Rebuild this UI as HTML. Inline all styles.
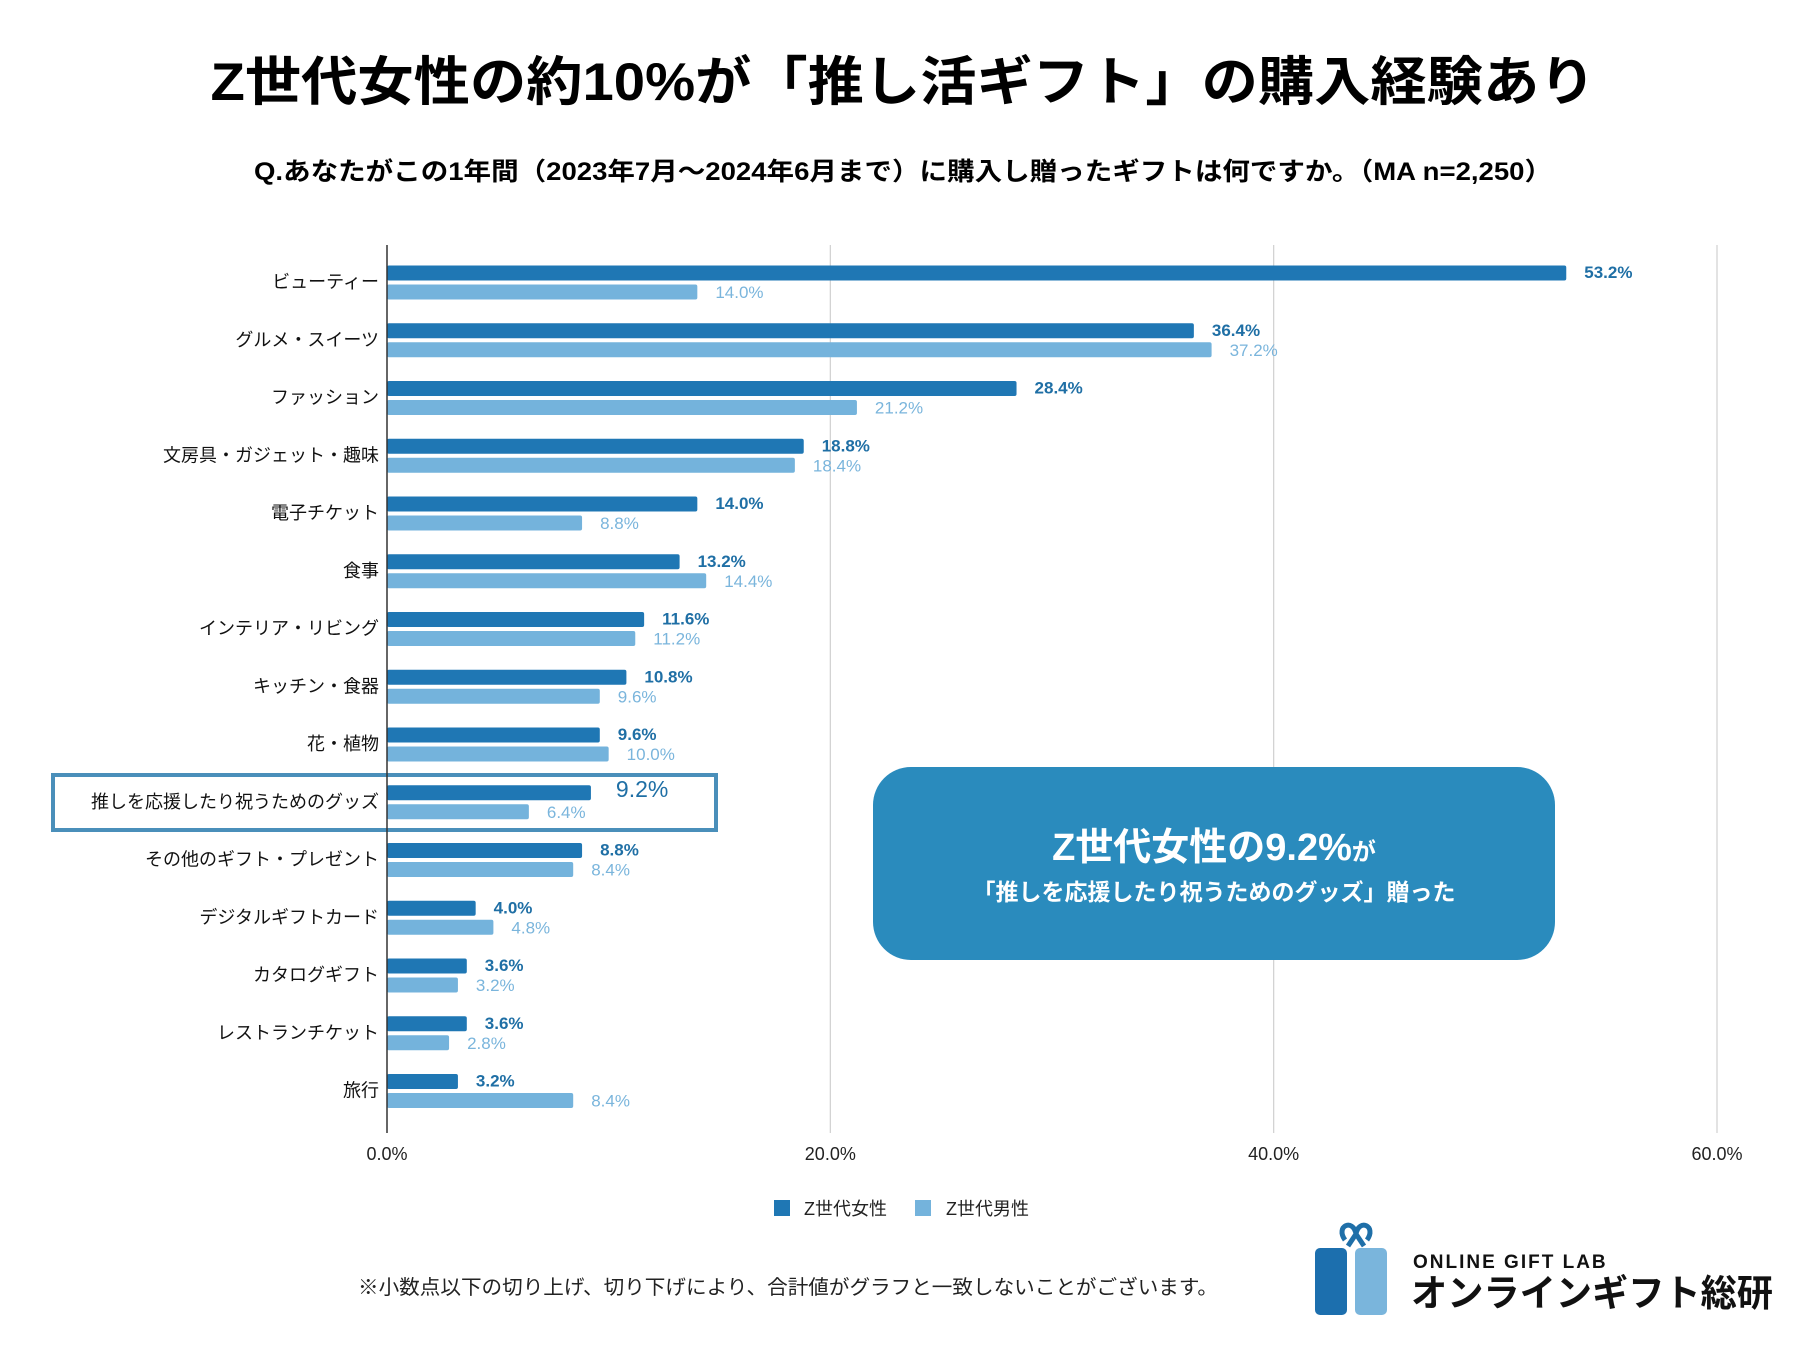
<!DOCTYPE html>
<html><head><meta charset="utf-8">
<style>
html,body{margin:0;padding:0;background:#fff;}
svg{display:block;font-family:"Liberation Sans","Noto Sans CJK JP",sans-serif;}
</style></head>
<body>
<svg id="chart" width="1800" height="1350" viewBox="0 0 1800 1350" xmlns="http://www.w3.org/2000/svg">
<rect width="1800" height="1350" fill="#fff"/>
<text x="903" y="100" text-anchor="middle" font-size="53" font-weight="bold" textLength="1385" lengthAdjust="spacingAndGlyphs" fill="#000">Z世代女性の約10%が「推し活ギフト」の購入経験あり</text>
<text x="903" y="180" text-anchor="middle" font-size="25" font-weight="bold" textLength="1298" lengthAdjust="spacingAndGlyphs" fill="#000">Q.あなたがこの1年間（2023年7月～2024年6月まで）に購入し贈ったギフトは何ですか。（MA n=2,250）</text>
<g id="grid"></g>
<g id="bars"></g>
<rect x="53" y="775" width="663" height="55" fill="none" stroke="#4a8fba" stroke-width="4"/>
<line x1="387" y1="245" x2="387" y2="1133" stroke="#333" stroke-width="1.5"/>
<g>
<rect x="873" y="767" width="682" height="193" rx="38" fill="#2a8bbd"/>
<text x="1214" y="860" text-anchor="middle" fill="#fff" font-weight="bold" font-size="38">Z世代女性の9.2%<tspan font-size="24">が</tspan></text>
<text x="1214" y="900" text-anchor="middle" fill="#fff" font-weight="bold" font-size="23">「推しを応援したり祝うためのグッズ」贈った</text>
</g>
<g>
<rect x="774" y="1200" width="16" height="16" fill="#1f77b4"/>
<text x="804" y="1215" font-size="18" fill="#222">Z世代女性</text>
<rect x="915" y="1200" width="16" height="16" fill="#74b3dc"/>
<text x="946" y="1215" font-size="18" fill="#222">Z世代男性</text>
</g>
<text x="358" y="1294" font-size="20" fill="#222" textLength="860" lengthAdjust="spacingAndGlyphs">※小数点以下の切り上げ、切り下げにより、合計値がグラフと一致しないことがございます。</text>
<g>
<path d="M1345 1240 c-10 -14 8 -22 11 -6 c3 -16 21 -8 11 6 M1356 1234 l-8 12 M1356 1234 l8 12" fill="none" stroke="#1f6fa8" stroke-width="5"/>
<rect x="1315" y="1248" width="32" height="67" rx="5" fill="#1c6fae"/>
<rect x="1355" y="1248" width="32" height="67" rx="5" fill="#7ab5dc"/>
<text x="1413" y="1268" font-size="19" font-weight="bold" letter-spacing="2" fill="#111">ONLINE GIFT LAB</text>
<text x="1411" y="1306" font-size="37" font-weight="bold" fill="#111" textLength="362" lengthAdjust="spacingAndGlyphs">オンラインギフト総研</text>
</g>
</svg>
<script>
const categories = ["ビューティー","グルメ・スイーツ","ファッション","文房具・ガジェット・趣味","電子チケット","食事","インテリア・リビング","キッチン・食器","花・植物","推しを応援したり祝うためのグッズ","その他のギフト・プレゼント","デジタルギフトカード","カタログギフト","レストランチケット","旅行"];
const femaleValues = [53.2,36.4,28.4,18.8,14.0,13.2,11.6,10.8,9.6,9.2,8.8,4.0,3.6,3.6,3.2];
const maleValues = [14.0,37.2,21.2,18.4,8.8,14.4,11.2,9.6,10.0,6.4,8.4,4.8,3.2,2.8,8.4];
const xTicks = [0,20,40,60];
const xTickLabels = ["0.0%","20.0%","40.0%","60.0%"];

const NS = "http://www.w3.org/2000/svg";
const x0 = 387, x60 = 1717, top0 = 245, bot = 1133;
function xScale(v){ return x0 + (x60 - x0) * v / 60; }
const band = 57.75;
function yCenter(i){ return 273 + i * band; }
function mk(tag, attrs, parent){ const e = document.createElementNS(NS, tag); for (const k in attrs) e.setAttribute(k, attrs[k]); parent.appendChild(e); return e; }

const grid = document.getElementById('grid');
xTicks.forEach((t, i) => {
  const x = xScale(t);
  if (t > 0) {
    const l = mk('line', {x1:x, y1:top0, x2:x, y2:bot, stroke:'#d0d0d0', 'stroke-width':1.2}, grid);
    
    
  }
  const tx = mk('text', {x:x, y:1160, 'text-anchor':'middle', 'font-size':18, fill:'#222'}, grid);
  tx.textContent = xTickLabels[i];
  
  
});

const bars = document.getElementById('bars');
categories.forEach((c, i) => {
  const yc = yCenter(i);
  const lab = mk('text', {x:379, y:yc + 15, 'text-anchor':'end', 'font-size':18, fill:'#111'}, bars);
  lab.textContent = c;
  
  

  const fv = femaleValues[i], mv = maleValues[i];
  const b1 = mk('rect', {x:x0, y:yc - 7.5, width:xScale(fv) - x0, height:15, rx:2, fill:'#1f77b4'}, bars);
  
  
  const b2 = mk('rect', {x:x0, y:yc + 11.5, width:xScale(mv) - x0, height:15, rx:2, fill:'#74b3dc'}, bars);
  
  

  const big = (i === 9);
  const v1 = mk('text', {x:xScale(fv) + (big ? 25 : 18), y:yc + (big ? 4 : 5), 'font-size': big ? 23 : 17, fill:'#1f6fa5', 'font-weight': big ? 'normal' : 'bold'}, bars);
  v1.textContent = fv.toFixed(1) + '%';
  
  
  const v2 = mk('text', {x:xScale(mv) + 18, y:yc + 25, 'font-size':17, fill:'#7ab5dc'}, bars);
  v2.textContent = mv.toFixed(1) + '%';
  
  
});
</script>
</body></html>
